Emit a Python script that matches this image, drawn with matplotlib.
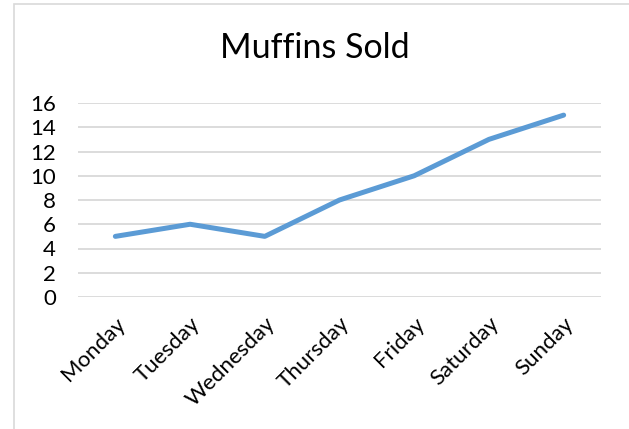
import matplotlib.pyplot as plt
from matplotlib.patches import Rectangle

days = ["Monday", "Tuesday", "Wednesday", "Thursday", "Friday", "Saturday", "Sunday"]
muffins = [5, 6, 5, 8, 10, 13, 15]
y_ticks = [0, 2, 4, 6, 8, 10, 12, 14, 16]

plt.rcParams['font.family'] = ['Lato', 'DejaVu Sans']

fig = plt.figure(figsize=(6.29, 4.29), dpi=100)
W, H = 629, 429

# chart border like the Excel chart area
fig.patches.append(Rectangle((14 / W, -0.1), 1.2, (H - 4) / H + 0.1,
                             transform=fig.transFigure, fill=False,
                             edgecolor="#d9d9d9", linewidth=1.2))

ax = fig.add_axes([78 / W, 1 - 297 / H, (601 - 78) / W, (297 - 103) / H])
x = list(range(len(days)))
ax.plot(x, muffins, color="#5b9bd5", linewidth=3.6, solid_capstyle="round",
        solid_joinstyle="round", zorder=3)

ax.set_xlim(-0.5, len(days) - 0.5)
ax.set_ylim(0, 16)
ax.set_yticks(y_ticks)
ax.set_xticks(x)
ax.set_xticklabels(days, rotation=45, ha="right", rotation_mode="anchor")
ax.tick_params(axis="both", length=0, labelsize=16, colors="black")
ax.tick_params(axis="y", pad=16)
ax.tick_params(axis="x", pad=12)
ax.grid(axis="y", color="#d9d9d9", linewidth=1.3)
ax.set_axisbelow(True)
for s in ax.spines.values():
    s.set_visible(False)

fig.text(0.5, 1 - 48 / H, "Muffins Sold", ha="center", va="center", fontsize=24.5)

fig.savefig("out.png", dpi=100)
